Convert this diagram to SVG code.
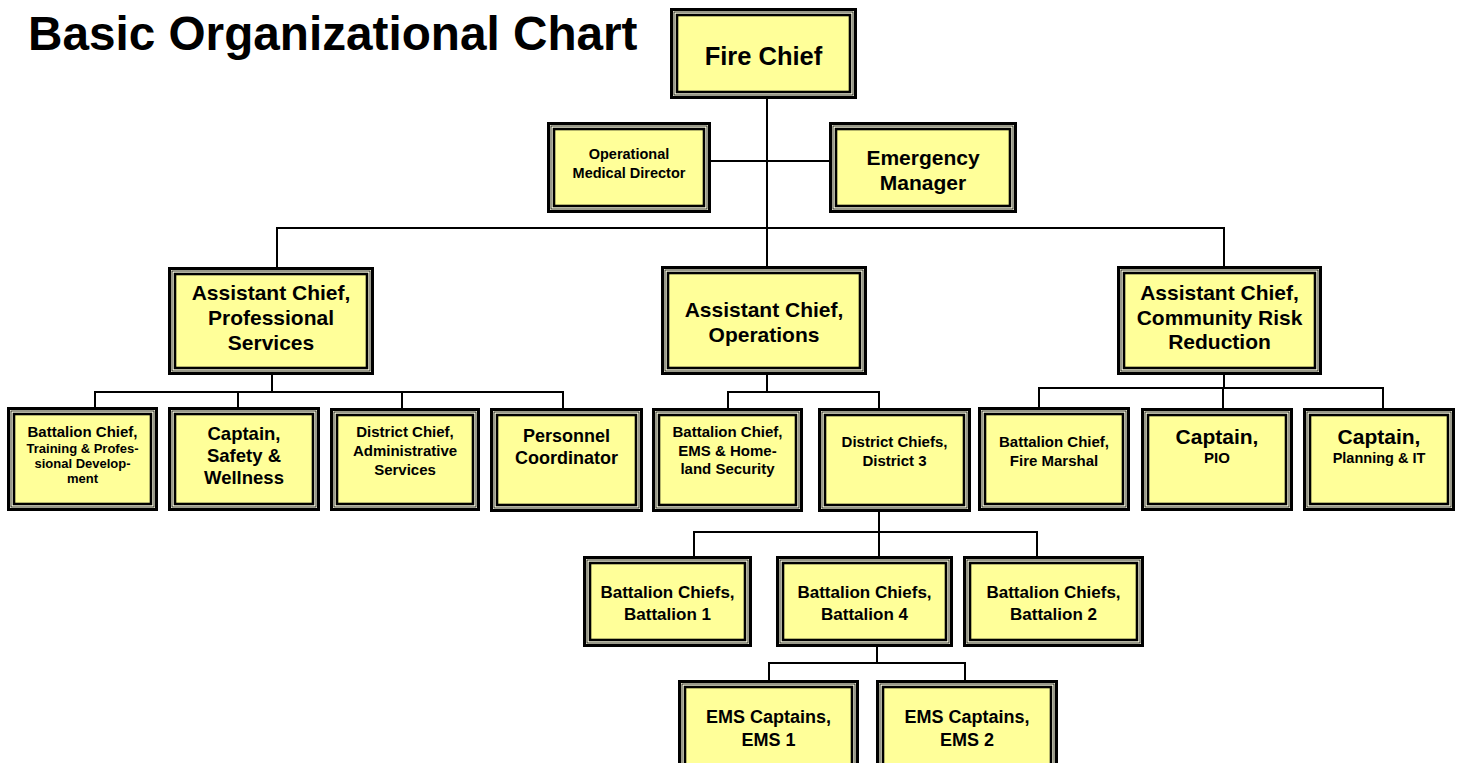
<svg xmlns="http://www.w3.org/2000/svg" width="1458" height="763" viewBox="0 0 1458 763">
<style>
.o{fill:#FFFFE6;stroke:#000;stroke-width:3}
.m{fill:none;stroke:#000;stroke-width:0.8}
.i{fill:#FFFF99;stroke:#000;stroke-width:2.6}
text{font-family:"Liberation Sans",Arial,sans-serif;font-weight:bold;fill:#000;text-anchor:middle}
.c path{fill:none;stroke:#000;stroke-width:2}
</style>
<rect width="1458" height="763" fill="#fff"/>
<text x="28" y="50" style="text-anchor:start;font-size:47.7px">Basic Organizational Chart</text>
<g class="c" id="connectors">
<path d="M767,99 V266"/>
<path d="M711,161 H829"/>
<path d="M277,267 V228 H1224 V266"/>
<path d="M272,375 V392 M95,407 V392 H563 V408 M238,392 V407 M402,392 V408"/>
<path d="M767,375 V392 M728,408 V392 H879 V408"/>
<path d="M1224,375 V388 M1039,407 V388 H1383 V408 M1223,388 V408"/>
<path d="M879,512 V532 M694,556 V532 H1037 V556 M879,532 V556"/>
<path d="M877,647 V663 M769,680 V663 H965 V680"/>
</g>
<g id="fire-chief" transform="translate(670,8)"><rect class="o" x="1.5" y="1.5" width="184" height="88"/><rect class="m" x="4" y="4" width="179" height="83"/><rect class="i" x="7" y="7" width="173" height="77"/><text x="93.5" y="57" font-size="25.5">Fire Chief</text></g>
<g id="omd" transform="translate(547,122)"><rect class="o" x="1.5" y="1.5" width="161" height="88"/><rect class="m" x="4" y="4" width="156" height="83"/><rect class="i" x="7" y="7" width="150" height="77"/><text x="82" font-size="14.5"><tspan x="82" y="37">Operational</tspan><tspan x="82" y="56">Medical Director</tspan></text></g>
<g id="em" transform="translate(829,122)"><rect class="o" x="1.5" y="1.5" width="185" height="88"/><rect class="m" x="4" y="4" width="180" height="83"/><rect class="i" x="7" y="7" width="174" height="77"/><text font-size="21"><tspan x="94" y="43">Emergency</tspan><tspan x="94" y="68">Manager</tspan></text></g>
<g id="ac-ps" transform="translate(168,267)"><rect class="o" x="1.5" y="1.5" width="203" height="105"/><rect class="m" x="4" y="4" width="198" height="100"/><rect class="i" x="7" y="7" width="192" height="94"/><text font-size="21"><tspan x="103" y="33">Assistant Chief,</tspan><tspan x="103" y="58">Professional</tspan><tspan x="103" y="83">Services</tspan></text></g>
<g id="ac-ops" transform="translate(661,266)"><rect class="o" x="1.5" y="1.5" width="203" height="106"/><rect class="m" x="4" y="4" width="198" height="101"/><rect class="i" x="7" y="7" width="192" height="95"/><text font-size="21"><tspan x="103" y="51">Assistant Chief,</tspan><tspan x="103" y="76">Operations</tspan></text></g>
<g id="ac-crr" transform="translate(1117,266)"><rect class="o" x="1.5" y="1.5" width="202" height="106"/><rect class="m" x="4" y="4" width="197" height="101"/><rect class="i" x="7" y="7" width="191" height="95"/><text font-size="21"><tspan x="102.5" y="34">Assistant Chief,</tspan><tspan x="102.5" y="59">Community Risk</tspan><tspan x="102.5" y="83">Reduction</tspan></text></g>
<g id="bc-training" transform="translate(7,407)"><rect class="o" x="1.5" y="1.5" width="148" height="101"/><rect class="m" x="4" y="4" width="143" height="96"/><rect class="i" x="7" y="7" width="137" height="90"/><text><tspan x="75.5" y="30" font-size="15">Battalion Chief,</tspan><tspan x="75.5" y="46" font-size="13">Training &amp; Profes-</tspan><tspan x="75.5" y="61" font-size="13">sional Develop-</tspan><tspan x="75.5" y="76" font-size="13">ment</tspan></text></g>
<g id="capt-safety" transform="translate(168,407)"><rect class="o" x="1.5" y="1.5" width="149" height="101"/><rect class="m" x="4" y="4" width="144" height="96"/><rect class="i" x="7" y="7" width="138" height="90"/><text font-size="18.5"><tspan x="76" y="33">Captain,</tspan><tspan x="76" y="55">Safety &amp;</tspan><tspan x="76" y="77">Wellness</tspan></text></g>
<g id="dc-admin" transform="translate(330,408)"><rect class="o" x="1.5" y="1.5" width="147" height="100"/><rect class="m" x="4" y="4" width="142" height="95"/><rect class="i" x="7" y="7" width="136" height="89"/><text font-size="15"><tspan x="75" y="29">District Chief,</tspan><tspan x="75" y="48">Administrative</tspan><tspan x="75" y="67">Services</tspan></text></g>
<g id="personnel" transform="translate(490,408)"><rect class="o" x="1.5" y="1.5" width="150" height="101"/><rect class="m" x="4" y="4" width="145" height="96"/><rect class="i" x="7" y="7" width="139" height="90"/><text font-size="18"><tspan x="76.5" y="33.5">Personnel</tspan><tspan x="76.5" y="55.5">Coordinator</tspan></text></g>
<g id="bc-ems" transform="translate(652,408)"><rect class="o" x="1.5" y="1.5" width="148" height="101"/><rect class="m" x="4" y="4" width="143" height="96"/><rect class="i" x="7" y="7" width="137" height="90"/><text font-size="15"><tspan x="75.5" y="29">Battalion Chief,</tspan><tspan x="75.5" y="48">EMS &amp; Home-</tspan><tspan x="75.5" y="66">land Security</tspan></text></g>
<g id="dc-d3" transform="translate(818,408)"><rect class="o" x="1.5" y="1.5" width="150" height="101"/><rect class="m" x="4" y="4" width="145" height="96"/><rect class="i" x="7" y="7" width="139" height="90"/><text font-size="15"><tspan x="76.5" y="39">District Chiefs,</tspan><tspan x="76.5" y="58">District 3</tspan></text></g>
<g id="bc-fm" transform="translate(978,407)"><rect class="o" x="1.5" y="1.5" width="149" height="101"/><rect class="m" x="4" y="4" width="144" height="96"/><rect class="i" x="7" y="7" width="138" height="90"/><text font-size="15"><tspan x="76" y="40">Battalion Chief,</tspan><tspan x="76" y="59">Fire Marshal</tspan></text></g>
<g id="capt-pio" transform="translate(1141,408)"><rect class="o" x="1.5" y="1.5" width="149" height="100"/><rect class="m" x="4" y="4" width="144" height="95"/><rect class="i" x="7" y="7" width="138" height="89"/><text><tspan x="76" y="35.5" font-size="21">Captain,</tspan><tspan x="76" y="55" font-size="15">PIO</tspan></text></g>
<g id="capt-plan" transform="translate(1303,408)"><rect class="o" x="1.5" y="1.5" width="149" height="100"/><rect class="m" x="4" y="4" width="144" height="95"/><rect class="i" x="7" y="7" width="138" height="89"/><text><tspan x="76" y="35.5" font-size="21">Captain,</tspan><tspan x="76" y="55" font-size="14.5">Planning &amp; IT</tspan></text></g>
<g id="bc1" transform="translate(583,556)"><rect class="o" x="1.5" y="1.5" width="166" height="88"/><rect class="m" x="4" y="4" width="161" height="83"/><rect class="i" x="7" y="7" width="155" height="77"/><text font-size="17"><tspan x="84.5" y="42">Battalion Chiefs,</tspan><tspan x="84.5" y="64">Battalion 1</tspan></text></g>
<g id="bc4" transform="translate(776,556)"><rect class="o" x="1.5" y="1.5" width="174" height="88"/><rect class="m" x="4" y="4" width="169" height="83"/><rect class="i" x="7" y="7" width="163" height="77"/><text font-size="17"><tspan x="88.5" y="42">Battalion Chiefs,</tspan><tspan x="88.5" y="64">Battalion 4</tspan></text></g>
<g id="bc2" transform="translate(963,556)"><rect class="o" x="1.5" y="1.5" width="178" height="88"/><rect class="m" x="4" y="4" width="173" height="83"/><rect class="i" x="7" y="7" width="167" height="77"/><text font-size="17"><tspan x="90.5" y="42">Battalion Chiefs,</tspan><tspan x="90.5" y="64">Battalion 2</tspan></text></g>
<g id="ems1" transform="translate(678,680)"><rect class="o" x="1.5" y="1.5" width="178" height="92"/><rect class="m" x="4" y="4" width="173" height="87"/><rect class="i" x="7" y="7" width="167" height="81"/><text font-size="18"><tspan x="90.5" y="42.5">EMS Captains,</tspan><tspan x="90.5" y="65.5">EMS 1</tspan></text></g>
<g id="ems2" transform="translate(876,680)"><rect class="o" x="1.5" y="1.5" width="179" height="92"/><rect class="m" x="4" y="4" width="174" height="87"/><rect class="i" x="7" y="7" width="168" height="81"/><text font-size="18"><tspan x="91" y="42.5">EMS Captains,</tspan><tspan x="91" y="65.5">EMS 2</tspan></text></g>
</svg>
